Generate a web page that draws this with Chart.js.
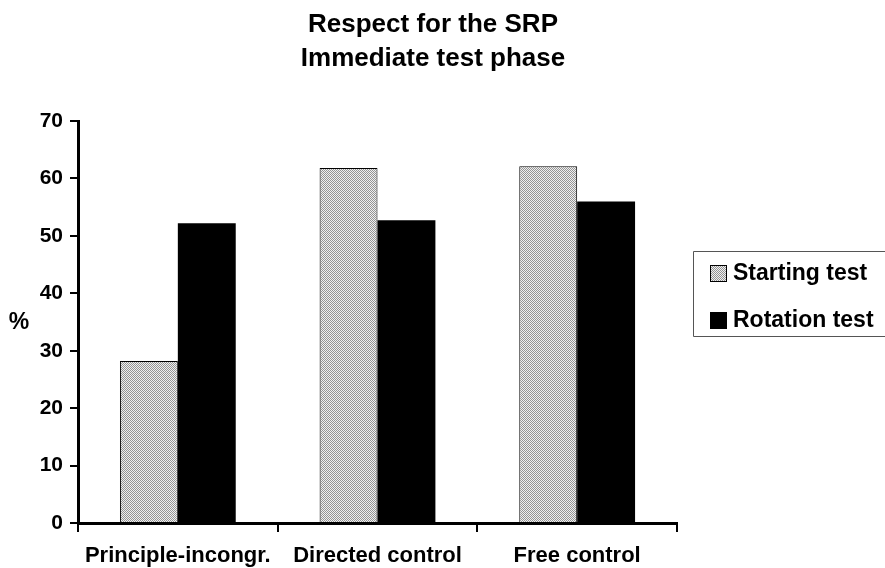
<!DOCTYPE html>
<html>
<head>
<meta charset="utf-8">
<script src="https://cdn.jsdelivr.net/npm/chart.js@4.4.1/dist/chart.umd.min.js"></script>
<style>
  html, body { margin: 0; padding: 0; background: #ffffff; }
  #wrap { width: 885px; height: 568px; }
</style>
</head>
<body>
<div id="wrap"><canvas id="chart" width="885" height="568"></canvas></div>
<script>
// Chart content
const titleLines = ['Respect for the SRP', 'Immediate test phase'];
const yAxisLabel = '%';
const categories = ['Principle-incongr.', 'Directed control', 'Free control'];
const seriesNames = ['Starting test', 'Rotation test'];
const startingTest = [28.2, 61.8, 62.1];
const rotationTest = [52.2, 52.7, 56.0];
const yTicks = [0, 10, 20, 30, 40, 50, 60, 70];

const FONT = "'Liberation Sans', Arial, Helvetica, sans-serif";

// Stippled light-grey fill for the first series
function stipple() {
  const c = document.createElement('canvas');
  c.width = 4; c.height = 4;
  const g = c.getContext('2d');
  for (let y = 0; y < 4; y++) {
    for (let x = 0; x < 4; x++) {
      g.fillStyle = ((x + y) % 2 === 0) ? '#949494' : '#f0f0f0';
      g.fillRect(x, y, 1, 1);
    }
  }
  return g.createPattern(c, 'repeat');
}
const stippleFill = stipple();

// Title, y-axis caption and boxed legend drawn on top of the chart
const decorations = {
  id: 'decorations',
  afterDraw(chart) {
    const ctx = chart.ctx;
    ctx.save();
    ctx.fillStyle = '#000';

    // Title
    ctx.font = 'bold 26px ' + FONT;
    ctx.textAlign = 'center';
    ctx.textBaseline = 'alphabetic';
    ctx.fillText(titleLines[0], 433, 32);
    ctx.fillText(titleLines[1], 433, 66);

    // Y-axis caption
    ctx.font = 'bold 23px ' + FONT;
    ctx.textBaseline = 'middle';
    ctx.fillText(yAxisLabel, 19, 323);

    // Legend frame (open on the right edge of the canvas)
    ctx.strokeStyle = '#555';
    ctx.lineWidth = 1;
    ctx.beginPath();
    ctx.moveTo(chart.width + 1, 251.5);
    ctx.lineTo(693.5, 251.5);
    ctx.lineTo(693.5, 336.5);
    ctx.lineTo(chart.width + 1, 336.5);
    ctx.stroke();

    // Legend entries
    const rows = [273, 320];
    chart.data.datasets.forEach((ds, i) => {
      const cy = rows[i];
      ctx.fillStyle = ds.backgroundColor;
      ctx.fillRect(710, cy - 8, 17, 17);
      ctx.strokeStyle = '#000';
      ctx.lineWidth = 1;
      ctx.strokeRect(710.5, cy - 7.5, 16, 16);
      ctx.fillStyle = '#000';
      ctx.font = 'bold 23px ' + FONT;
      ctx.textAlign = 'left';
      ctx.textBaseline = 'middle';
      ctx.fillText(ds.label, 733, cy + 1);
    });
    ctx.restore();
  }
};

new Chart(document.getElementById('chart'), {
  type: 'bar',
  data: {
    labels: categories,
    datasets: [
      {
        label: seriesNames[0],
        data: startingTest,
        backgroundColor: stippleFill,
        borderColor: '#000',
        borderWidth: 1,
        borderSkipped: 'bottom'
      },
      {
        label: seriesNames[1],
        data: rotationTest,
        backgroundColor: '#000',
        borderColor: '#000',
        borderWidth: 0
      }
    ]
  },
  options: {
    responsive: false,
    animation: false,
    devicePixelRatio: 1,
    layout: { padding: { top: 121, right: 208, left: 0, bottom: 0 } },
    datasets: { bar: { categoryPercentage: 0.58, barPercentage: 1.0 } },
    plugins: {
      legend: { display: false },
      title: { display: false },
      tooltip: { enabled: false }
    },
    scales: {
      x: {
        offset: true,
        grid: {
          offset: true,
          drawOnChartArea: false,
          drawTicks: true,
          tickLength: 9,
          color: '#000',
          lineWidth: 2
        },
        border: { display: true, color: '#000', width: 3 },
        ticks: {
          color: '#000',
          padding: 11,
          font: { family: FONT, size: 22, weight: 'bold' },
          maxRotation: 0,
          autoSkip: false
        },
        afterFit(scale) { scale.height = 45; }
      },
      y: {
        min: 0,
        max: 70,
        afterBuildTicks(scale) { scale.ticks = yTicks.map(v => ({ value: v })); },
        grid: {
          drawOnChartArea: false,
          drawTicks: true,
          tickLength: 8,
          color: '#000',
          lineWidth: 2
        },
        border: { display: true, color: '#000', width: 3 },
        ticks: {
          color: '#000',
          padding: 7,
          font: { family: FONT, size: 21, weight: 'bold' }
        },
        afterFit(scale) { scale.width = 78; }
      }
    }
  },
  plugins: [decorations]
});
</script>
</body>
</html>
